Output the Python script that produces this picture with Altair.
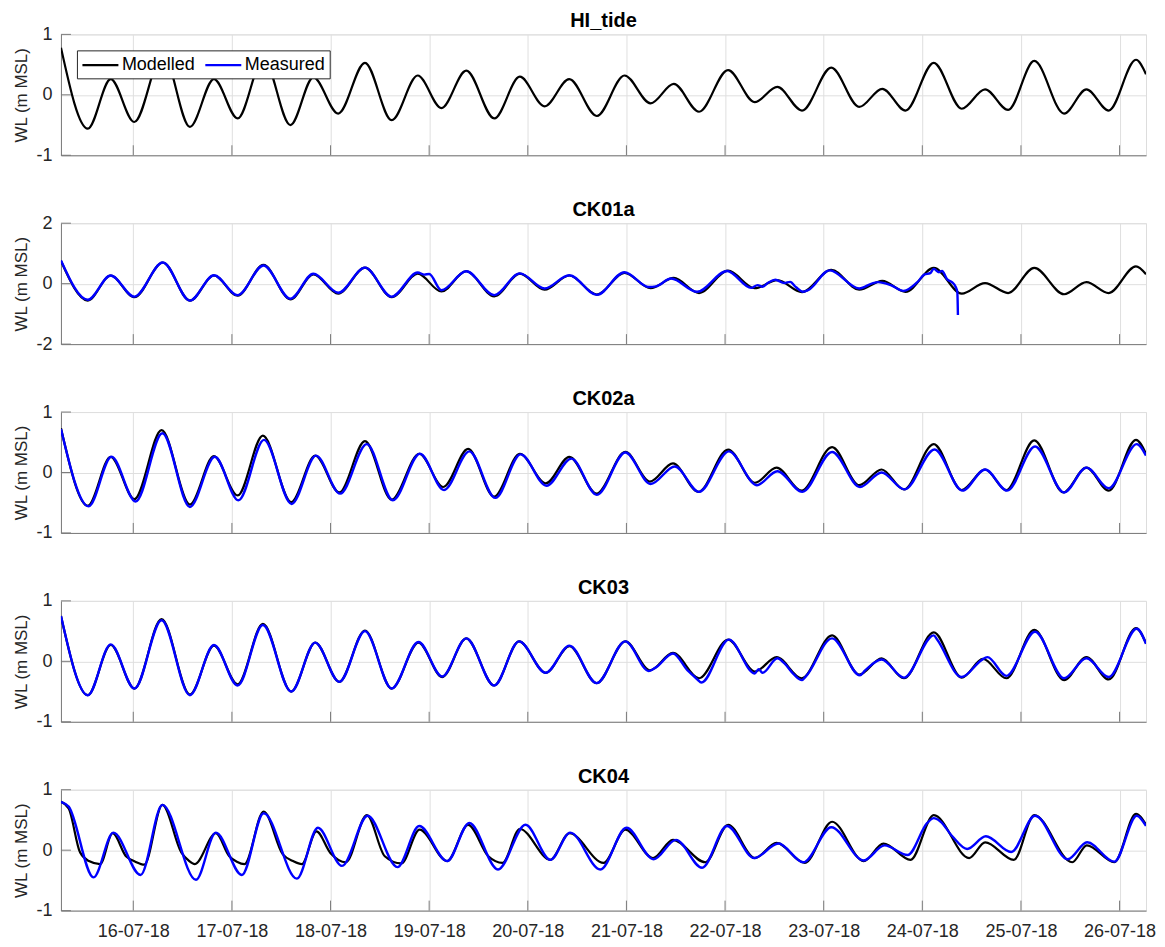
import altair as alt
import numpy as np
import pandas as pd

FONT = "Liberation Sans"
INK = "#262626"
GRID = "#dfdfdf"
AXIS = "#7a7a7a"

# Time axis values are fractional days of July 2018; water levels in m MSL.
# Each series lists its turning points (high / low water) plus a few extra
# readings where the record wiggles.

HI_MOD_T = [15.267, 15.539, 15.771, 16.01, 16.30, 16.574, 16.818, 17.058, 17.32, 17.593,
            17.826, 18.078, 18.349, 18.62, 18.884, 19.124, 19.376, 19.66, 19.919, 20.17,
            20.42, 20.70, 20.98, 21.245, 21.48, 21.736, 22.03, 22.30, 22.53, 22.78,
            23.077, 23.36, 23.594, 23.83, 24.116, 24.40, 24.636, 24.87, 25.135, 25.437,
            25.664, 25.89, 26.166, 26.268]
HI_MOD_V = [0.78, -0.56, 0.26, -0.45, 0.68, -0.53, 0.26, -0.39, 0.60, -0.50,
            0.29, -0.31, 0.53, -0.42, 0.32, -0.22, 0.40, -0.39, 0.30, -0.19,
            0.26, -0.35, 0.32, -0.14, 0.18, -0.28, 0.41, -0.12, 0.13, -0.26,
            0.45, -0.20, 0.10, -0.26, 0.53, -0.23, 0.09, -0.25, 0.56, -0.31,
            0.09, -0.26, 0.58, 0.34]

CK01A_MOD_T = HI_MOD_T
CK01A_MOD_V = [0.75, -0.56, 0.27, -0.45, 0.70, -0.56, 0.27, -0.40, 0.62, -0.52,
               0.31, -0.33, 0.53, -0.45, 0.33, -0.26, 0.41, -0.42, 0.33, -0.20,
               0.27, -0.36, 0.36, -0.15, 0.19, -0.31, 0.43, -0.15, 0.12, -0.28,
               0.46, -0.20, 0.09, -0.27, 0.52, -0.33, 0.02, -0.31, 0.52, -0.35,
               0.05, -0.31, 0.57, 0.31]
CK01A_OBS_T = [15.267, 15.539, 15.771, 16.01, 16.30, 16.574, 16.818, 17.058, 17.32, 17.593,
               17.826, 18.078, 18.349, 18.62, 18.884, 18.95, 19.00, 19.124, 19.376, 19.66,
               19.919, 20.17, 20.42, 20.70, 20.98, 21.227, 21.30, 21.453, 21.717, 22.02,
               22.265, 22.33, 22.38, 22.44, 22.51, 22.60, 22.66, 22.72, 22.79, 22.85,
               23.06, 23.36, 23.50, 23.55, 23.68, 23.81, 23.95, 24.02, 24.08, 24.116,
               24.17, 24.20, 24.25, 24.30, 24.34, 24.355, 24.361]
CK01A_OBS_V = [0.77, -0.53, 0.27, -0.43, 0.70, -0.56, 0.28, -0.38, 0.60, -0.50,
               0.33, -0.30, 0.53, -0.43, 0.37, 0.30, 0.32, -0.22, 0.41, -0.38,
               0.34, -0.16, 0.28, -0.37, 0.38, -0.11, -0.09, 0.17, -0.27, 0.42,
               -0.14, -0.05, -0.10, 0.04, 0.13, 0.02, 0.06, -0.12, -0.27, -0.20,
               0.44, -0.16, 0.02, 0.05, -0.05, -0.24, 0.05, 0.30, 0.35, 0.49,
               0.38, 0.42, 0.15, 0.05, -0.12, -0.27, -1.04]

CK02A_MOD_T = [15.267, 15.539, 15.771, 16.012, 16.287, 16.574, 16.818, 17.058, 17.314, 17.601,
               17.845, 18.089, 18.349, 18.620, 18.899, 19.143, 19.395, 19.659, 19.919, 20.182,
               20.422, 20.698, 20.989, 21.238, 21.472, 21.729, 22.031, 22.303, 22.522, 22.775,
               23.085, 23.360, 23.587, 23.813, 24.116, 24.399, 24.637, 24.852, 25.135, 25.430,
               25.664, 25.890, 26.166, 26.268]
CK02A_MOD_V = [0.73, -0.55, 0.26, -0.44, 0.70, -0.53, 0.27, -0.38, 0.61, -0.49,
               0.28, -0.33, 0.52, -0.45, 0.31, -0.24, 0.39, -0.40, 0.31, -0.18,
               0.26, -0.35, 0.34, -0.15, 0.15, -0.32, 0.38, -0.17, 0.08, -0.30,
               0.42, -0.21, 0.05, -0.28, 0.47, -0.29, 0.05, -0.29, 0.53, -0.33,
               0.08, -0.30, 0.54, 0.31]
CK02A_OBS_T = [15.267, 15.547, 15.779, 16.024, 16.295, 16.574, 16.826, 17.066, 17.326, 17.605,
               17.853, 18.097, 18.368, 18.632, 18.906, 19.151, 19.407, 19.671, 19.927, 20.19,
               20.442, 20.70, 20.989, 21.245, 21.491, 21.736, 22.039, 22.322, 22.53, 22.783,
               23.085, 23.368, 23.587, 23.82, 24.124, 24.406, 24.637, 24.86, 25.143, 25.437,
               25.664, 25.89, 26.174, 26.268]
CK02A_OBS_V = [0.72, -0.56, 0.26, -0.48, 0.65, -0.57, 0.26, -0.46, 0.54, -0.52,
               0.28, -0.35, 0.47, -0.46, 0.31, -0.29, 0.35, -0.42, 0.30, -0.22,
               0.23, -0.37, 0.33, -0.19, 0.10, -0.32, 0.35, -0.21, 0.02, -0.32,
               0.34, -0.24, 0.0, -0.28, 0.38, -0.30, 0.05, -0.30, 0.43, -0.33,
               0.08, -0.26, 0.47, 0.28]

CK03_MOD_T = [15.267, 15.539, 15.771, 16.012, 16.287, 16.574, 16.818, 17.058, 17.314, 17.601,
              17.845, 18.089, 18.349, 18.620, 18.891, 19.132, 19.376, 19.659, 19.911, 20.182,
              20.422, 20.698, 20.989, 21.238, 21.472, 21.736, 22.031, 22.303, 22.522, 22.775,
              23.085, 23.360, 23.587, 23.813, 24.116, 24.399, 24.615, 24.852, 25.135, 25.437,
              25.664, 25.890, 26.166, 26.268]
CK03_MOD_V = [0.75, -0.56, 0.27, -0.45, 0.70, -0.55, 0.26, -0.38, 0.62, -0.50,
              0.31, -0.34, 0.51, -0.45, 0.31, -0.26, 0.38, -0.40, 0.33, -0.19,
              0.25, -0.36, 0.33, -0.15, 0.14, -0.28, 0.36, -0.17, 0.07, -0.28,
              0.43, -0.22, 0.05, -0.28, 0.48, -0.27, 0.04, -0.28, 0.52, -0.31,
              0.07, -0.30, 0.55, 0.30]
CK03_OBS_T = [15.267, 15.539, 15.771, 16.012, 16.287, 16.574, 16.818, 17.058, 17.314, 17.601,
              17.845, 18.089, 18.349, 18.620, 18.891, 19.132, 19.376, 19.659, 19.911, 20.182,
              20.422, 20.698, 20.989, 21.227, 21.30, 21.472, 21.62, 21.68, 21.72, 21.76,
              22.039, 22.30, 22.34, 22.38, 22.53, 22.60, 22.70, 22.78, 22.82, 23.085,
              23.368, 23.42, 23.587, 23.813, 24.116, 24.15, 24.399, 24.60, 24.66, 24.852,
              25.143, 25.437, 25.664, 25.890, 26.174, 26.268]
CK03_OBS_V = [0.75, -0.56, 0.28, -0.45, 0.68, -0.56, 0.27, -0.40, 0.60, -0.50,
              0.31, -0.34, 0.50, -0.45, 0.32, -0.25, 0.38, -0.40, 0.33, -0.19,
              0.26, -0.36, 0.33, -0.16, -0.10, 0.13, -0.15, -0.24, -0.30, -0.35,
              0.36, -0.20, -0.13, -0.19, 0.05, -0.03, -0.22, -0.31, -0.25, 0.38,
              -0.23, -0.15, 0.03, -0.27, 0.43, 0.36, -0.26, 0.02, 0.07, -0.24,
              0.49, -0.28, 0.05, -0.26, 0.54, 0.29]

CK04_MOD_T = [15.267, 15.345, 15.461, 15.55, 15.663, 15.791, 15.926, 16.02, 16.112, 16.295,
              16.488, 16.56, 16.624, 16.837, 16.973, 17.05, 17.128, 17.322, 17.516, 17.62,
              17.709, 17.857, 18.00, 18.155, 18.368, 18.55, 18.717, 18.903, 19.182, 19.395,
              19.60, 19.744, 19.919, 20.229, 20.422, 20.768, 20.989, 21.270, 21.472, 21.800,
              22.031, 22.303, 22.522, 22.809, 23.085, 23.405, 23.606, 23.881, 24.116, 24.475,
              24.637, 24.928, 25.135, 25.520, 25.668, 25.947, 26.166, 26.268]
CK04_MOD_V = [0.80, 0.69, -0.04, -0.18, -0.23, 0.28, -0.10, -0.19, -0.24, 0.75,
              -0.04, -0.17, -0.23, 0.28, -0.10, -0.19, -0.23, 0.64, -0.07, -0.18,
              -0.23, 0.31, -0.05, -0.20, 0.58, -0.10, -0.22, 0.34, -0.18, 0.42,
              -0.10, -0.21, 0.35, -0.16, 0.28, -0.21, 0.34, -0.13, 0.17, -0.20,
              0.42, -0.13, 0.12, -0.21, 0.47, -0.18, 0.11, -0.16, 0.58, -0.13,
              0.13, -0.16, 0.58, -0.20, 0.08, -0.20, 0.60, 0.42]
CK04_OBS_T = [15.267, 15.345, 15.597, 15.798, 16.074, 16.295, 16.636, 16.837, 17.101, 17.322,
              17.659, 17.872, 18.116, 18.376, 18.678, 18.899, 19.182, 19.407, 19.698, 19.977,
              20.229, 20.430, 20.736, 21.000, 21.276, 21.502, 21.767, 22.020, 22.295, 22.541,
              22.794, 23.077, 23.406, 23.617, 23.851, 24.05, 24.116, 24.18, 24.304, 24.455,
              24.644, 24.901, 25.143, 25.475, 25.671, 25.947, 26.174, 26.268]
CK04_OBS_V = [0.80, 0.72, -0.45, 0.29, -0.41, 0.75, -0.49, 0.29, -0.41, 0.61,
              -0.47, 0.37, -0.26, 0.57, -0.28, 0.40, -0.18, 0.45, -0.32, 0.42,
              -0.16, 0.29, -0.32, 0.37, -0.15, 0.17, -0.29, 0.40, -0.13, 0.11,
              -0.20, 0.38, -0.17, 0.08, -0.08, 0.45, 0.53, 0.48, 0.23, 0.02,
              0.23, -0.03, 0.57, -0.15, 0.13, -0.19, 0.57, 0.40]

STATIONS = ["HI_tide", "CK01a", "CK02a", "CK03", "CK04"]
Y_LIMITS = [1, 2, 1, 1, 1]
SERIES_NAMES = ["Modelled", "Measured"]
SERIES_COLORS = ["#000000", "#0000ff"]
TICK_DAYS = list(range(16, 27))
X_START = (15, 6, 24)   # day, hour, minute
X_END = (26, 6, 26)

W, H = 1086, 121
TICK_LEN = 10
JULY = pd.Timestamp("2018-07-01")


def frame(days, values, name):
    t = JULY + pd.to_timedelta(np.asarray(days, dtype=float) - 1.0, unit="D")
    return pd.DataFrame({"t": t, "wl": values, "series": name})


def dt(day, h=0, m=0):
    return alt.DateTime(year=2018, month=7, date=day, hours=h, minutes=m)


def x_enc(show_labels):
    return alt.X(
        "t:T",
        scale=alt.Scale(domain=[dt(*X_START), dt(*X_END)]),
        axis=alt.Axis(
            values=[dt(d) for d in TICK_DAYS], format="%d-%m-%y", labels=show_labels,
            title=None, tickSize=0, grid=True, gridColor=GRID, gridWidth=1,
            domainColor=AXIS, domainWidth=1, labelFont=FONT, labelFontSize=18,
            labelColor=INK, labelPadding=12, labelFlush=False, labelOverlap=False,
        ),
    )


def y_enc(lim):
    return alt.Y(
        "wl:Q",
        scale=alt.Scale(domain=[-lim, lim], nice=False, zero=False),
        axis=alt.Axis(
            values=[-lim, 0, lim], labelExpr="toString(datum.value)",
            title="WL (m MSL)", tickSize=0, grid=True, gridColor=GRID, gridWidth=1,
            domainColor=AXIS, domainWidth=1, labelFont=FONT, labelFontSize=18,
            labelColor=INK, labelPadding=9, titleFont=FONT, titleFontSize=17,
            titleFontWeight="normal", titleColor=INK, titlePadding=5,
        ),
    )


def panel(name, lim, modelled, measured, last, with_legend):
    x = x_enc(last)
    y = y_enc(lim)
    layers = []
    if with_legend:
        color = alt.Color(
            "series:N",
            scale=alt.Scale(domain=SERIES_NAMES, range=SERIES_COLORS),
            legend=alt.Legend(
                orient="none", legendX=16, legendY=16, direction="horizontal",
                title=None, labelFont=FONT, labelFontSize=18, labelColor="#000000",
                # a long horizontal line sample, drawn in a compact legend row
                symbolType="M-1,0H3", symbolSize=324, symbolStrokeWidth=2.2,
                strokeColor=INK, fillColor="#ffffff", padding=4,
                columnPadding=5, labelOffset=20,
            ),
        )
        layers.append(
            alt.Chart(modelled).mark_line(strokeWidth=2.2, interpolate="monotone", clip=True)
            .encode(x=x, y=y, color=color)
        )
    else:
        layers.append(
            alt.Chart(modelled).mark_line(strokeWidth=2.2, interpolate="monotone", clip=True,
                                          color=SERIES_COLORS[0])
            .encode(x=x, y=y)
        )
    if measured is not None:
        layers.append(
            alt.Chart(measured).mark_line(strokeWidth=2.4, interpolate="monotone", clip=True,
                                          color=SERIES_COLORS[1])
            .encode(x=x, y=y)
        )
    # inward-pointing tick marks on the bottom and left axes
    xt = pd.DataFrame({"t": [JULY + pd.Timedelta(days=d - 1) for d in TICK_DAYS]})
    layers.append(
        alt.Chart(xt).mark_rule(color=AXIS, strokeWidth=1)
        .encode(x=x, y=alt.value(H), y2=alt.value(H - TICK_LEN))
    )
    yt = pd.DataFrame({"wl": [-lim, 0, lim]})
    layers.append(
        alt.Chart(yt).mark_rule(color=AXIS, strokeWidth=1)
        .encode(y=y, x=alt.value(0), x2=alt.value(TICK_LEN))
    )
    return alt.layer(*layers).properties(
        width=W, height=H,
        title=alt.TitleParams(name, font=FONT, fontSize=20, fontWeight="bold",
                              color="#000000", anchor="middle", offset=4, dy=10),
    )


modelled = [
    frame(HI_MOD_T, HI_MOD_V, "Modelled"),
    frame(CK01A_MOD_T, CK01A_MOD_V, "Modelled"),
    frame(CK02A_MOD_T, CK02A_MOD_V, "Modelled"),
    frame(CK03_MOD_T, CK03_MOD_V, "Modelled"),
    frame(CK04_MOD_T, CK04_MOD_V, "Modelled"),
]
measured = [
    None,
    frame(CK01A_OBS_T, CK01A_OBS_V, "Measured"),
    frame(CK02A_OBS_T, CK02A_OBS_V, "Measured"),
    frame(CK03_OBS_T, CK03_OBS_V, "Measured"),
    frame(CK04_OBS_T, CK04_OBS_V, "Measured"),
]

panels = [
    panel(STATIONS[i], Y_LIMITS[i], modelled[i], measured[i],
          last=(i == len(STATIONS) - 1), with_legend=(i == 0))
    for i in range(len(STATIONS))
]

chart = (
    alt.vconcat(*panels, spacing=34)
    .resolve_scale(color="independent")
    .resolve_legend(color="independent")
    .properties(padding={"left": 12, "top": 10, "right": 8, "bottom": 2})
    .configure_view(stroke=None)
    .configure(font=FONT)
)

chart.save("out.html", embed_options={"renderer": "svg", "actions": False})
